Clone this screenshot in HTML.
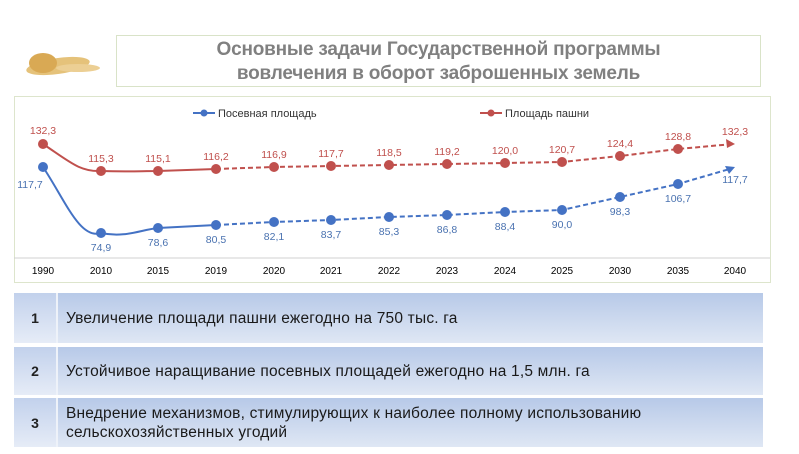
<!DOCTYPE html>
<html><head><meta charset="utf-8"><style>
body{margin:0;width:799px;height:454px;background:#fff;overflow:hidden;font-family:"Liberation Sans","DejaVu Sans",sans-serif;position:relative}
.title{position:absolute;left:116px;top:35px;width:645px;height:52px;border:1px solid #d9e3c8;box-sizing:border-box;color:#808080;font-weight:bold;font-size:19px;line-height:24px;text-align:center;padding-top:2px;letter-spacing:-0.2px}
.row{position:absolute;left:14px;width:749px;background:linear-gradient(180deg,#b7c9e8,#dfe7f4)}
.num{position:absolute;left:0;top:0;bottom:0;width:42px;background:linear-gradient(180deg,#c2d1ec,#e6ecf7);border-right:2px solid #eef2f9;font-weight:bold;font-size:14px;color:#222;display:flex;align-items:center;justify-content:center}
.txt{position:absolute;left:52px;top:0;bottom:0;display:flex;align-items:center;font-size:15.5px;color:#1a1a1a;line-height:19px;letter-spacing:0.2px}
</style></head><body>
<svg style="position:absolute;left:18px;top:38px" width="85" height="45"><ellipse cx="40" cy="28" rx="32" ry="8" fill="#e5c27a" transform="rotate(-8 40 28)"/><ellipse cx="25" cy="25" rx="14" ry="10" fill="#d9a954"/><ellipse cx="60" cy="30" rx="22" ry="4" fill="#eccf94"/></svg>
<div class="title">Основные задачи Государственной программы<br>вовлечения в оборот заброшенных земель</div>
<svg style="position:absolute;left:0;top:0" width="799" height="290" font-family="Liberation Sans, sans-serif">
<rect x="14.5" y="96.5" width="756" height="186" fill="#fff" stroke="#dde5cc"/>
<line x1="14" y1="258" x2="770" y2="258" stroke="#d0d0d0"/>
<g fill="#000" font-size="10" text-anchor="middle">
<text x="43" y="274">1990</text><text x="101" y="274">2010</text><text x="158" y="274">2015</text><text x="216" y="274">2019</text><text x="274" y="274">2020</text><text x="331" y="274">2021</text><text x="389" y="274">2022</text><text x="447" y="274">2023</text><text x="505" y="274">2024</text><text x="562" y="274">2025</text><text x="620" y="274">2030</text><text x="678" y="274">2035</text><text x="735" y="274">2040</text>
</g>
<line x1="193" y1="113" x2="215" y2="113" stroke="#4472c4" stroke-width="2"/><circle cx="204" cy="113" r="3.5" fill="#4472c4"/>
<text x="218" y="117" font-size="11" fill="#333">Посевная площадь</text>
<line x1="480" y1="113" x2="502" y2="113" stroke="#c0504d" stroke-width="2"/><circle cx="491" cy="113" r="3.5" fill="#c0504d"/>
<text x="505" y="117" font-size="11" fill="#333">Площадь пашни</text>
<path d="M43 144 C70 162,80 172,101 171 C130 172,140 171,158 171 L216 169" fill="none" stroke="#c0504d" stroke-width="2"/>
<path d="M216 169 L274 167 331 166 389 165 447 164 505 163 562 162 620 156 678 149 733 144" fill="none" stroke="#c0504d" stroke-width="2" stroke-dasharray="5,3"/>
<path d="M735 144 L726 139 L727 148Z" fill="#c0504d"/>
<path d="M43 167 C65 200,80 240,101 233 C125 238,140 230,158 228 L216 225" fill="none" stroke="#4472c4" stroke-width="2"/>
<path d="M216 225 L274 222 331 220 389 217 447 215 505 212 562 210 620 197 678 184 733 168" fill="none" stroke="#4472c4" stroke-width="2" stroke-dasharray="5,3"/>
<path d="M735 167 L725 166 L729 174Z" fill="#4472c4"/>
<g fill="#c0504d"><circle cx="43" cy="144" r="5"/><circle cx="101" cy="171" r="5"/><circle cx="158" cy="171" r="5"/><circle cx="216" cy="169" r="5"/><circle cx="274" cy="167" r="5"/><circle cx="331" cy="166" r="5"/><circle cx="389" cy="165" r="5"/><circle cx="447" cy="164" r="5"/><circle cx="505" cy="163" r="5"/><circle cx="562" cy="162" r="5"/><circle cx="620" cy="156" r="5"/><circle cx="678" cy="149" r="5"/></g>
<g fill="#4472c4"><circle cx="43" cy="167" r="5"/><circle cx="101" cy="233" r="5"/><circle cx="158" cy="228" r="5"/><circle cx="216" cy="225" r="5"/><circle cx="274" cy="222" r="5"/><circle cx="331" cy="220" r="5"/><circle cx="389" cy="217" r="5"/><circle cx="447" cy="215" r="5"/><circle cx="505" cy="212" r="5"/><circle cx="562" cy="210" r="5"/><circle cx="620" cy="197" r="5"/><circle cx="678" cy="184" r="5"/></g>
<g fill="#c0504d" font-size="10.5" text-anchor="middle">
<text x="43" y="134">132,3</text><text x="101" y="162">115,3</text><text x="158" y="162">115,1</text><text x="216" y="160">116,2</text><text x="274" y="158">116,9</text><text x="331" y="157">117,7</text><text x="389" y="156">118,5</text><text x="447" y="155">119,2</text><text x="505" y="154">120,0</text><text x="562" y="153">120,7</text><text x="620" y="147">124,4</text><text x="678" y="140">128,8</text><text x="735" y="135">132,3</text>
</g>
<g fill="#4a72b0" font-size="10.5" text-anchor="middle">
<text x="30" y="188">117,7</text><text x="101" y="251">74,9</text><text x="158" y="246">78,6</text><text x="216" y="243">80,5</text><text x="274" y="240">82,1</text><text x="331" y="238">83,7</text><text x="389" y="235">85,3</text><text x="447" y="233">86,8</text><text x="505" y="230">88,4</text><text x="562" y="228">90,0</text><text x="620" y="215">98,3</text><text x="678" y="202">106,7</text><text x="735" y="183">117,7</text>
</g>
</svg>
<div class="row" style="top:293px;height:50px"><div class="num">1</div><div class="txt">Увеличение площади пашни ежегодно на 750 тыс. га</div></div>
<div class="row" style="top:347px;height:48px"><div class="num">2</div><div class="txt">Устойчивое наращивание посевных площадей ежегодно на 1,5 млн. га</div></div>
<div class="row" style="top:398px;height:49px"><div class="num">3</div><div class="txt">Внедрение механизмов, стимулирующих к наиболее полному использованию<br>сельскохозяйственных угодий</div></div>
</body></html>
